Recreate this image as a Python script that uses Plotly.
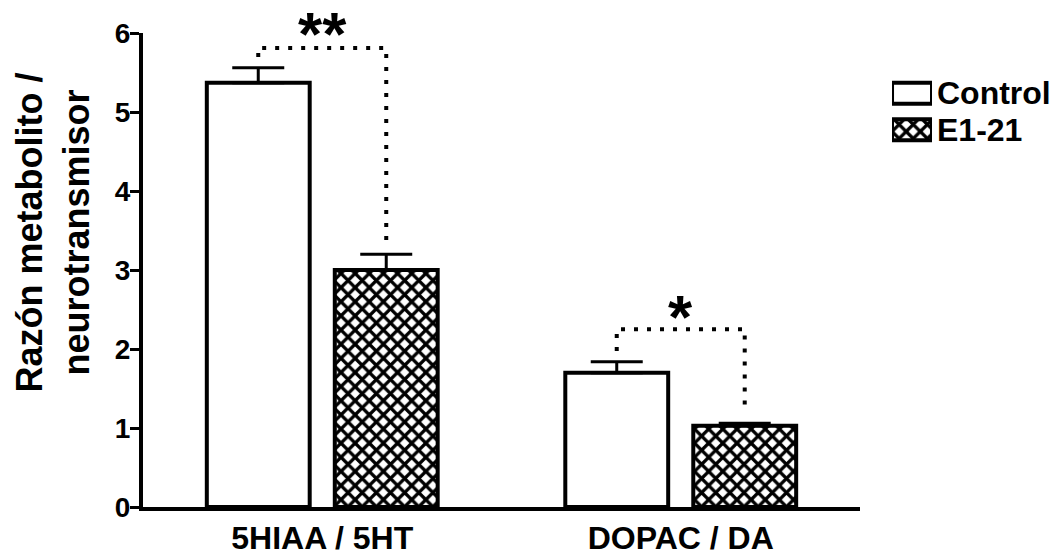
import plotly.graph_objects as go

# Metabolite / neurotransmitter ratios (mean and SEM)
categories = ["5HIAA / 5HT", "DOPAC / DA"]
groups = ["Control", "E1-21"]
control_mean = [5.37, 1.70]
control_sem = [0.19, 0.14]
e121_mean = [3.00, 1.03]
e121_sem = [0.20, 0.03]

# Significance brackets: label and bracket height per category
sig_labels = ["**", "*"]
sig_height = [5.81, 2.25]
sig_text_y = [6.0, 2.41]

FONT = "Arial, Liberation Sans, sans-serif"
BARGAP = 0.286
BARGROUPGAP = 0.196
Y_MAX = 6
HATCH = dict(fgcolor="black", fgopacity=1, bgcolor="white", size=10,
             solidity=0.55, fillmode="overlay")

# Legend block geometry (paper coordinates)
LEG_X = [0.8204, 0.8642]
LEG_Y = [0.7573, 0.9115]

fig = go.Figure()

fig.add_trace(go.Bar(
    name=groups[0], x=categories, y=control_mean,
    marker=dict(color="white", line=dict(color="black", width=4)),
    error_y=dict(type="data", array=control_sem, arrayminus=[0] * len(control_sem),
                 symmetric=False, color="black", thickness=3, width=26),
    showlegend=False,
))
fig.add_trace(go.Bar(
    name=groups[1], x=categories, y=e121_mean,
    marker=dict(color="white", line=dict(color="black", width=4),
                pattern=dict(shape="x", **HATCH)),
    error_y=dict(type="data", array=e121_sem, arrayminus=[0] * len(e121_sem),
                 symmetric=False, color="black", thickness=3, width=26),
    showlegend=False,
))

# Legend swatches drawn as bars on their own small axes
fig.add_trace(go.Bar(
    x=[1, 1], y=groups, orientation="h", xaxis="x2", yaxis="y2",
    marker=dict(color="white", line=dict(color="black", width=4),
                pattern=dict(shape=["", "x"], **HATCH)),
    showlegend=False, hoverinfo="skip",
))

# Legend labels, one per swatch row
row_h = (LEG_Y[1] - LEG_Y[0]) / len(groups)
for k, name in enumerate(groups):
    fig.add_annotation(
        x=LEG_X[1] + 0.003, y=LEG_Y[1] - row_h * (k + 0.5),
        xref="paper", yref="paper", text=name, showarrow=False,
        xanchor="left", yanchor="middle",
        font=dict(family=FONT, size=32, color="black", weight="bold"),
    )

# Dotted significance brackets between the two bars of each category
half_slot = (1 - BARGAP) / 4
for i, cat in enumerate(categories):
    xl = i - half_slot
    xr = i + half_slot
    yl = control_mean[i] + control_sem[i] + 0.135
    yr = e121_mean[i] + e121_sem[i] + 0.14
    fig.add_shape(
        type="path", xref="x", yref="y",
        path=f"M {xl},{yl} L {xl},{sig_height[i]} L {xr},{sig_height[i]} L {xr},{yr}",
        line=dict(color="black", width=4, dash="4px,9px"),
    )
    fig.add_annotation(
        x=i, y=sig_text_y[i] / Y_MAX, xref="x", yref="paper", text=sig_labels[i],
        showarrow=False, yanchor="middle",
        font=dict(family=FONT, size=62, color="black", weight="bold"),
    )

# Y-axis title as a two-line rotated label
fig.add_annotation(
    x=-0.0986, y=0.579, xref="paper", yref="paper",
    text="Razón metabolito /<br>neurotransmisor",
    textangle=-90, showarrow=False, xanchor="center", yanchor="middle",
    font=dict(family=FONT, size=36, color="black", weight="bold"),
)

fig.update_layout(
    width=1056, height=556,
    margin=dict(l=143, r=0, t=33, b=43),
    paper_bgcolor="white", plot_bgcolor="white",
    barmode="group", bargap=BARGAP, bargroupgap=BARGROUPGAP,
    font=dict(family=FONT, color="black"),
    xaxis=dict(
        domain=[0, 0.7853], range=[-0.5, 1.5],
        showline=True, linewidth=4, linecolor="black",
        ticks="", showgrid=False, zeroline=False,
        tickfont=dict(family=FONT, size=32, color="black", weight="bold"),
    ),
    yaxis=dict(
        range=[0, Y_MAX], tickvals=[0, 1, 2, 3, 4, 5, 6],
        showline=True, linewidth=4, linecolor="black",
        ticks="outside", ticklen=9, tickwidth=3, tickcolor="black",
        ticklabelstandoff=-6,
        showgrid=False, zeroline=False,
        tickfont=dict(family=FONT, size=28, color="black", weight="bold"),
    ),
    xaxis2=dict(
        domain=LEG_X, range=[0, 1], anchor="y2",
        visible=False, fixedrange=True,
    ),
    yaxis2=dict(
        domain=LEG_Y, anchor="x2", type="category",
        categoryorder="array", categoryarray=groups, autorange="reversed",
        visible=False, fixedrange=True,
    ),
)

fig.write_html("out.html")
